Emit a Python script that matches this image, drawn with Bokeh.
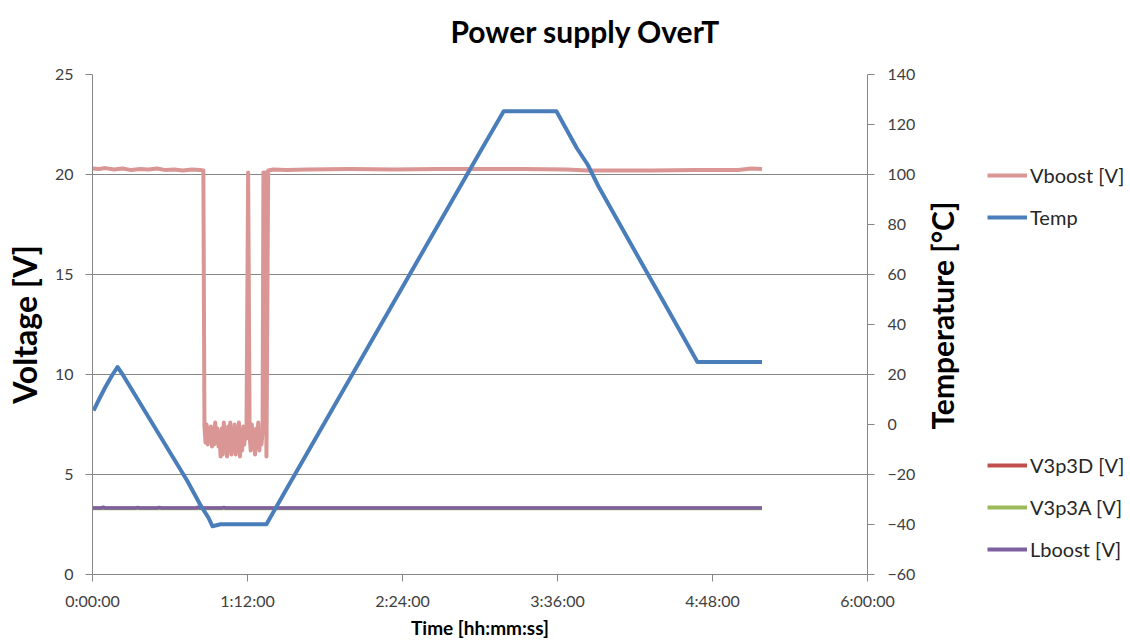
import math

from bokeh.embed import file_html
from bokeh.layouts import row
from bokeh.models import FixedTicker, Legend, LegendItem, LinearAxis, Range1d, Title
from bokeh.plotting import figure
from bokeh.resources import INLINE

# ---- data (time in minutes since start) ----
time_ticks = [0, 72, 144, 216, 288, 360]
time_tick_labels = ["0:00:00", "1:12:00", "2:24:00", "3:36:00", "4:48:00", "6:00:00"]

temp_t = [0.5, 3, 6, 9, 11.6, 14, 20, 26, 32, 38, 44, 50, 54, 55.7, 59.5, 66, 72, 80.8,
          90, 100, 110, 120, 130, 140, 150, 160, 170, 180, 191,
          200, 210, 215.5, 225, 230, 235, 245, 255, 265, 275, 281, 290, 300, 311]
temp_c = [5.6, 10, 15, 19.5, 23, 20, 11.5, 3, -5.5, -14, -22.5, -32, -37.5, -40.7, -39.9, -39.9, -39.9, -39.9,
          -26, -11, 4, 19, 34, 49, 64, 79, 94, 109, 125.3,
          125.3, 125.3, 125.3, 110.5, 104, 95.3, 80, 64.7, 49.5, 34.2, 25, 25, 25, 25]

vboost_t = [0, 3, 6, 10, 14, 18, 22, 26, 30, 34, 38, 42, 46, 50, 51.5,
            52.0, 52.5, 53.0, 53.5, 54.0, 54.5, 55.0, 55.5, 56.0, 56.5, 57.0, 57.5, 58.0, 58.5,
            59.0, 59.5, 60.0, 60.5, 61.0, 61.5, 62.0, 62.5, 63.0, 63.5, 64.0, 64.5, 65.0, 65.5,
            66.0, 66.5, 67.0, 67.5, 68.0, 68.5, 69.0, 69.5, 70.0, 70.5, 71.0, 71.5, 72.3,
            73.0, 73.5, 74.0, 74.5, 75.0, 75.5, 76.0, 76.5, 77.0, 77.5, 78.0, 78.5, 79.0,
            79.4, 80.2, 80.8, 81.6, 84, 90, 100, 120, 140, 160, 180, 200, 220, 230,
            240, 260, 280, 300, 306, 311]
vboost_v = [20.3, 20.28, 20.32, 20.25, 20.3, 20.22, 20.28, 20.25, 20.3, 20.22, 20.25, 20.2, 20.25, 20.22, 20.2,
            7.4, 6.6, 7.5, 6.5, 7.3, 6.8, 7.4, 6.4, 7.2, 6.5, 7.6, 6.6, 7.3, 6.4,
            6.9, 5.9, 7.3, 6.0, 7.6, 6.2, 7.1, 5.9, 7.4, 6.5, 7.6, 6.0, 6.9, 6.3,
            7.5, 6.0, 7.2, 6.4, 7.6, 5.9, 7.0, 6.2, 7.4, 6.5, 7.2, 6.8, 20.1,
            6.9, 6.2, 7.5, 6.4, 7.1, 6.0, 7.3, 6.6, 7.6, 6.2, 7.0, 6.5, 7.2,
            20.1, 20.1, 5.9, 20.2, 20.25, 20.22, 20.25, 20.27, 20.25, 20.27, 20.28, 20.27, 20.25, 20.2,
            20.2, 20.2, 20.22, 20.22, 20.3, 20.28]

rail_t = [0, 4, 5, 6, 20, 21, 22, 30, 31, 32, 48, 49, 50, 60, 61, 62, 70, 100, 150, 200, 250, 300, 311]
v3p3d_v = [3.31] * len(rail_t)
v3p3a_v = [3.30] * len(rail_t)
lboost_v = [3.32, 3.32, 3.37, 3.32, 3.32, 3.36, 3.32, 3.32, 3.36, 3.32, 3.32, 3.37, 3.32, 3.32, 3.36,
            3.32, 3.32, 3.32, 3.32, 3.32, 3.32, 3.32, 3.32]

series_colors = {"Vboost [V]": "#D99694", "Temp": "#4A7EBB", "V3p3D [V]": "#C0504D",
                 "V3p3A [V]": "#9BBB59", "Lboost [V]": "#7D60A0"}

# ---- styling ----
FONT = "Lato"
GRAY = "#868686"
TICK_TXT = "#404040"
EMSP = "\u2003"
SP3 = "\u2004"
MAIN_W = 982
H = 641

p = figure(width=MAIN_W, height=H, output_backend="svg", toolbar_location=None,
           x_range=Range1d(0, 360), y_range=Range1d(0, 25), title=None,
           min_border_left=92, min_border_right=115, min_border_top=74, min_border_bottom=67)
p.extra_y_ranges = {"temp": Range1d(-60, 140)}
p.outline_line_color = None
p.background_fill_color = "white"
p.border_fill_color = "white"

# spacer title keeps the heading clear of the plot frame
p.add_layout(Title(text=EMSP, text_font_size="10px", standoff=13, text_color="white"), "above")
p.add_layout(Title(text="Power supply OverT", text_font=FONT, text_font_size="30px",
                   text_font_style="bold", text_color="black", align="left", offset=358,
                   vertical_align="bottom", standoff=0), "above")

p.xgrid.visible = False
p.ygrid.grid_line_color = GRAY
p.ygrid.grid_line_width = 1
p.ygrid.ticker = FixedTicker(ticks=[0, 5, 10, 15, 20, 25])


def style_axis(ax):
    ax.axis_line_color = GRAY
    ax.major_tick_line_color = GRAY
    ax.minor_tick_line_color = None
    ax.major_tick_in = 0
    ax.major_tick_out = 7
    ax.major_label_text_font = FONT
    ax.major_label_text_font_size = "16px"
    ax.major_label_text_color = TICK_TXT
    ax.axis_label_text_font = FONT
    ax.axis_label_text_font_style = "bold"
    ax.axis_label_text_color = "black"


xa = p.xaxis[0]
style_axis(xa)
xa.ticker = FixedTicker(ticks=time_ticks)
xa.major_label_overrides = {t: lab for t, lab in zip(time_ticks, time_tick_labels)}
xa.axis_label = "Time [hh:mm:ss]"
xa.axis_label_text_font_size = "19px"
xa.major_label_standoff = 9
xa.axis_label_standoff = 3

ya = p.yaxis[0]
style_axis(ya)
ya.ticker = FixedTicker(ticks=[0, 5, 10, 15, 20, 25])
ya.axis_label = "Voltage [V]"
ya.axis_label_text_font_size = "32px"
ya.major_label_standoff = 12
ya.axis_label_standoff = 8

ra = LinearAxis(y_range_name="temp", ticker=FixedTicker(ticks=list(range(-60, 141, 20))))
style_axis(ra)
ra.axis_label = EMSP * 6 + SP3 + "Temperature [°C]"
ra.axis_label_text_font_size = "30px"
ra.major_label_standoff = 13
ra.axis_label_standoff = 24
props = ra.properties()
if "axis_label_orientation" in props:
    ra.axis_label_orientation = math.pi / 2
if "axis_label_align" in props:
    ra.axis_label_align = "start"
p.add_layout(ra, "right")

# ---- series ----
p.line(vboost_t, vboost_v, line_color=series_colors["Vboost [V]"], line_width=4, line_join="round")
p.line(rail_t, v3p3d_v, line_color=series_colors["V3p3D [V]"], line_width=3.5)
p.line(rail_t, v3p3a_v, line_color=series_colors["V3p3A [V]"], line_width=3.5)
p.line(rail_t, lboost_v, line_color=series_colors["Lboost [V]"], line_width=3.5)
p.line(temp_t, temp_c, line_color=series_colors["Temp"], line_width=4, line_join="round",
       y_range_name="temp")

# ---- legend panel: same series, ranges set so only the key is shown ----
lf = figure(width=1130 - MAIN_W, height=H, output_backend="svg", toolbar_location=None,
            x_axis_type=None, y_axis_type=None, min_border=0,
            x_range=Range1d(-20, -10), y_range=Range1d(-200, -100))
lf.grid.visible = False
lf.outline_line_color = None
lf.background_fill_color = "white"
lf.border_fill_color = "white"

k_vb = lf.line(vboost_t, vboost_v, line_color=series_colors["Vboost [V]"], line_width=4)
k_t = lf.line(temp_t, temp_c, line_color=series_colors["Temp"], line_width=4)
k_d = lf.line(rail_t, v3p3d_v, line_color=series_colors["V3p3D [V]"], line_width=4)
k_a = lf.line(rail_t, v3p3a_v, line_color=series_colors["V3p3A [V]"], line_width=4)
k_l = lf.line(rail_t, lboost_v, line_color=series_colors["Lboost [V]"], line_width=4)


def make_legend(items, loc):
    lg = Legend(items=items, location=loc, orientation="vertical")
    lg.border_line_color = None
    lg.background_fill_alpha = 0
    lg.padding = 0
    lg.margin = 0
    lg.spacing = 18
    lg.glyph_width = 40
    lg.glyph_height = 24
    lg.label_height = 24
    lg.label_standoff = 3
    lg.label_text_font = FONT
    lg.label_text_font_size = "20px"
    lg.label_text_color = "#262626"
    return lg


lf.add_layout(make_legend([LegendItem(label="Vboost [V]", renderers=[k_vb]),
                           LegendItem(label="Temp", renderers=[k_t])], (5, 345)))
lf.add_layout(make_legend([LegendItem(label="V3p3D [V]", renderers=[k_d]),
                           LegendItem(label="V3p3A [V]", renderers=[k_a]),
                           LegendItem(label="Lboost [V]", renderers=[k_l])], (5, 13)))

open("out.html", "w").write(file_html(row(p, lf, spacing=0), INLINE))
